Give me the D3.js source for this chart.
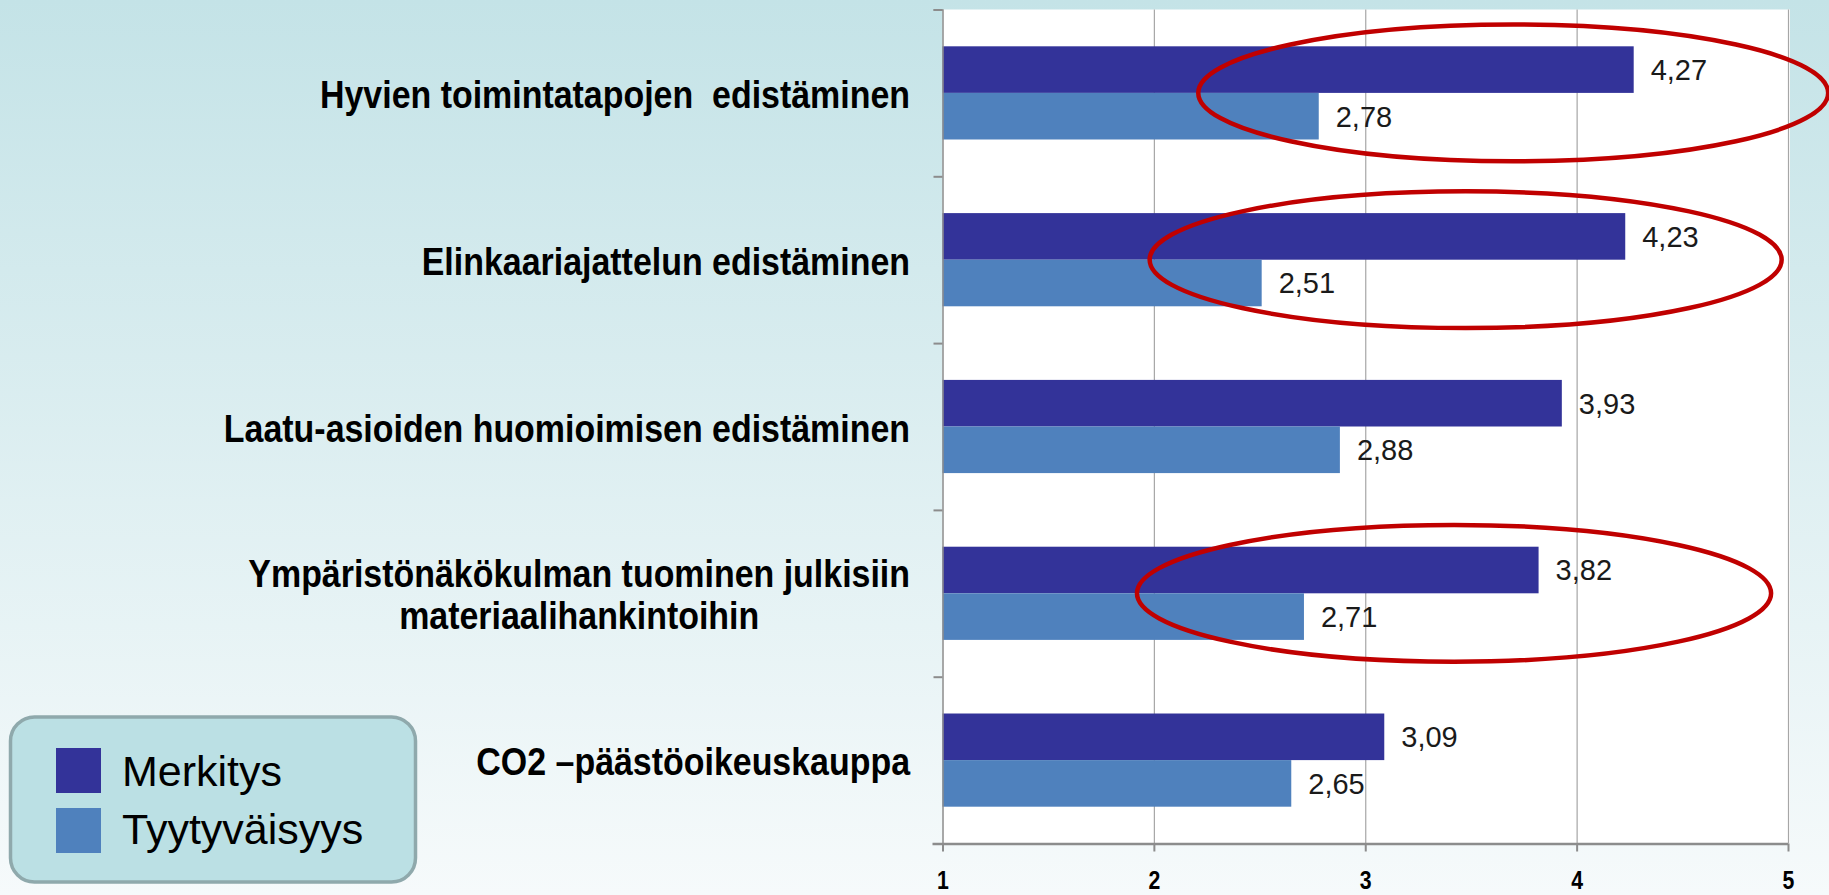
<!DOCTYPE html>
<html>
<head>
<meta charset="utf-8">
<script src="https://cdn.jsdelivr.net/npm/d3@7"></script>
<style>
  html, body { margin: 0; padding: 0; overflow: hidden; }
  text { font-family: 'Liberation Sans', Arial, sans-serif; }
</style>
</head>
<body>
<script>
const categories = [
  ['Hyvien toimintatapojen  edistäminen'],
  ['Elinkaariajattelun edistäminen'],
  ['Laatu-asioiden huomioimisen edistäminen'],
  ['Ympäristönäkökulman tuominen julkisiin', 'materiaalihankintoihin'],
  ['CO2 –päästöoikeuskauppa']
]
const seriesNames = ['Merkitys', 'Tyytyväisyys']
const merkitys = [4.27, 4.23, 3.93, 3.82, 3.09]
const tyytyvaisyys = [2.78, 2.51, 2.88, 2.71, 2.65]
const xTicks = [1, 2, 3, 4, 5]
// red rings drawn round some categories (value range they span)
const highlights = [
  { index: 0, from: 2.21, to: 5.19 },
  { index: 1, from: 1.98, to: 4.97 },
  { index: 3, from: 1.92, to: 4.92 }
]

const colors = ['#333399', '#4f81bd']
const width = 1829
const height = 895
const plot = { left: 942.5, right: 1788, top: 9.5, bottom: 843.5 }

const svg = d3.select('body').append('svg')
  .attr('width', width)
  .attr('height', height)

const grad = svg.append('defs').append('linearGradient')
  .attr('id', 'bg')
  .attr('x1', 0).attr('y1', 0).attr('x2', 0).attr('y2', 1)
grad.append('stop').attr('offset', '0%').attr('stop-color', '#c4e3e7')
grad.append('stop').attr('offset', '100%').attr('stop-color', '#f6fafb')

svg.append('rect')
  .attr('width', width)
  .attr('height', height)
  .attr('fill', 'url(#bg)')

const idx = categories.map((d, i) => i)

const xScale = d3.scaleLinear()
  .domain([1, 5])
  .range([plot.left, plot.right])

const yScale = d3.scaleBand()
  .domain(idx)
  .range([plot.top, plot.bottom])

const ySub = d3.scaleBand()
  .domain(seriesNames)
  .range([0, yScale.bandwidth()])
  .paddingOuter(0.79)

const yEdges = d3.scaleLinear()
  .domain([0, categories.length])
  .range([plot.top, plot.bottom])

// plot area
svg.append('rect')
  .attr('x', plot.left)
  .attr('y', plot.top)
  .attr('width', plot.right - plot.left + 2)
  .attr('height', plot.bottom - plot.top)
  .attr('fill', '#ffffff')

// gridlines
svg.append('g')
  .attr('transform', `translate(0, ${plot.bottom})`)
  .call(d3.axisBottom(xScale).tickValues(xTicks.slice(1)).tickSize(-(plot.bottom - plot.top)).tickFormat(''))
  .call(g => g.select('.domain').remove())
  .selectAll('line')
    .attr('stroke', '#a6a6a6')
    .attr('stroke-width', 1.2)

// bars
const series = [merkitys, tyytyvaisyys]
series.forEach((vals, s) => {
  svg.selectAll('.bar' + s)
    .data(vals)
    .enter().append('rect')
    .attr('class', 'bar' + s)
    .attr('x', xScale(1))
    .attr('y', (d, i) => yScale(i) + ySub(seriesNames[s]))
    .attr('width', d => xScale(d) - xScale(1))
    .attr('height', ySub.bandwidth())
    .attr('fill', colors[s])

  svg.selectAll('.val' + s)
    .data(vals)
    .enter().append('text')
    .attr('class', 'val' + s)
    .attr('x', d => xScale(d) + 17)
    .attr('y', (d, i) => yScale(i) + ySub(seriesNames[s]) + ySub.bandwidth() / 2)
    .attr('dy', '0.36em')
    .style('font-size', '29px')
    .style('fill', '#1a1a1a')
    .text(d => d.toFixed(2).replace('.', ','))
})

// left axis (category boundaries)
svg.append('g')
  .attr('transform', `translate(${plot.left}, 0)`)
  .call(d3.axisLeft(yEdges).tickValues(d3.range(categories.length)).tickSize(9).tickFormat(''))
  .call(g => g.select('.domain').attr('stroke', '#8c8c8c').attr('stroke-width', 1.5))
  .selectAll('line').attr('stroke', '#8c8c8c').attr('stroke-width', 2)

// bottom axis
const xAxis = svg.append('g')
  .attr('transform', `translate(0, ${plot.bottom})`)
  .call(d3.axisBottom(xScale).tickValues(xTicks).tickFormat(d3.format('d')).tickSize(8).tickSizeOuter(0))
xAxis.select('.domain')
  .attr('stroke', '#8c8c8c')
  .attr('stroke-width', 2.5)
  .attr('d', `M${plot.left - 10},0.5H${plot.right}`)
xAxis.selectAll('line').attr('stroke', '#8c8c8c').attr('stroke-width', 2)
xAxis.selectAll('text')
  .attr('y', 45.5)
  .attr('dy', 0)
  .attr('transform', 'scale(0.85, 1)')
  .style('font-size', '25px')
  .style('font-weight', 'bold')
  .style('fill', '#000')
  .style('font-family', "'Liberation Sans', Arial, sans-serif")

// category labels
const lineH = 42
categories.forEach((lines, i) => {
  const cy = yScale(i) + yScale.bandwidth() / 2 + 1
  const g = svg.append('g')
    .attr('transform', `translate(910, ${cy - (lines.length - 1) * lineH / 2}) scale(0.87, 1)`)
  const first = g.append('text')
    .attr('text-anchor', 'end')
    .attr('dy', '0.36em')
    .style('font-size', '39px')
    .style('font-weight', 'bold')
    .style('white-space', 'pre')
    .style('fill', '#000')
    .text(lines[0])
  const w = first.node().getComputedTextLength()
  lines.slice(1).forEach((ln, k) => {
    g.append('text')
      .attr('x', -w / 2)
      .attr('y', (k + 1) * lineH)
      .attr('text-anchor', 'middle')
      .attr('dy', '0.36em')
      .style('font-size', '39px')
      .style('font-weight', 'bold')
      .style('fill', '#000')
      .text(ln)
  })
})

// highlight rings
svg.selectAll('.ring')
  .data(highlights)
  .enter().append('ellipse')
  .attr('class', 'ring')
  .attr('cx', d => (xScale(d.from) + xScale(d.to)) / 2)
  .attr('cy', d => yScale(d.index) + yScale.bandwidth() / 2)
  .attr('rx', d => (xScale(d.to) - xScale(d.from)) / 2)
  .attr('ry', yScale.bandwidth() * 0.41)
  .attr('fill', 'none')
  .attr('stroke', '#c00000')
  .attr('stroke-width', 4.5)

// legend
const legend = svg.append('g')
legend.append('rect')
  .attr('x', 10.5)
  .attr('y', 717)
  .attr('width', 405)
  .attr('height', 165)
  .attr('rx', 24)
  .attr('fill', '#bbe0e4')
  .attr('stroke', '#8fa9ac')
  .attr('stroke-width', 3.5)

seriesNames.forEach((name, s) => {
  legend.append('rect')
    .attr('x', 56)
    .attr('y', 748 + s * 60)
    .attr('width', 45)
    .attr('height', 45)
    .attr('fill', colors[s])
  legend.append('text')
    .attr('x', 122)
    .attr('y', 786 + s * 58)
    .style('font-size', '43px')
    .style('fill', '#000')
    .text(name)
})
</script>
</body>
</html>
